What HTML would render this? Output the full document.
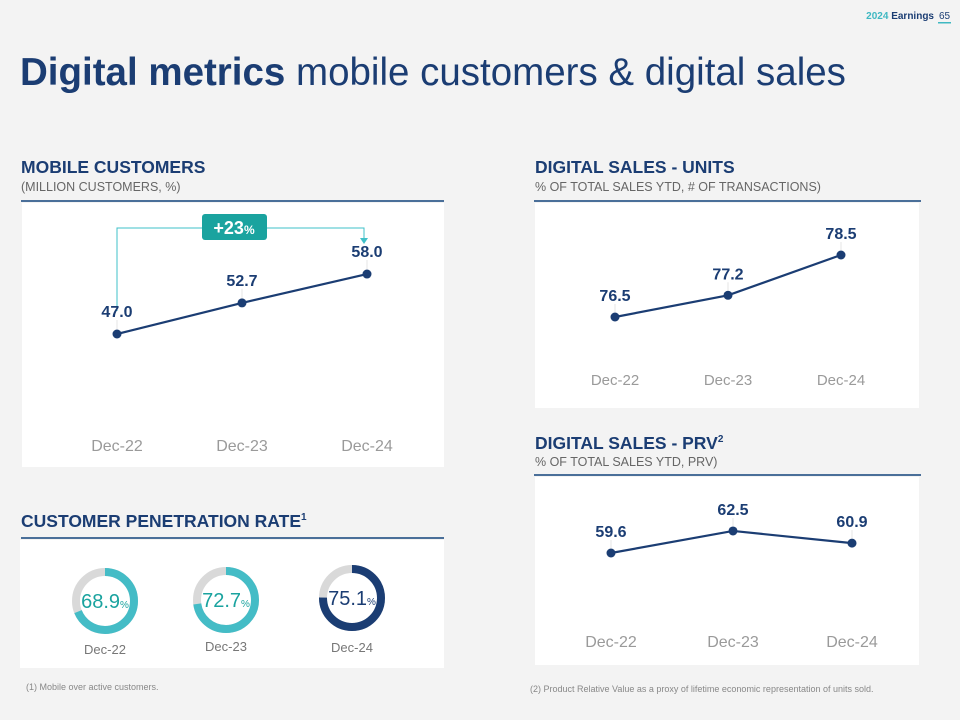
<!DOCTYPE html>
<html><head><meta charset="utf-8"><style>
body{margin:0;background:#f3f3f3;}
svg{display:block;font-family:"Liberation Sans",sans-serif;}
</style></head><body>
<svg width="960" height="720" viewBox="0 0 960 720" id="root">
<rect x="0" y="0" width="960" height="720" fill="#f3f3f3"/>
<text x="934" y="19" font-size="10" font-weight="bold" text-anchor="end"><tspan fill="#3fb8c2">2024</tspan><tspan fill="#1b3d73"> Earnings</tspan></text>
<text x="939" y="19" font-size="10" fill="#1b3d73">65</text>
<rect x="938" y="22" width="13" height="1.5" fill="#3fb8c2"/>
<text x="20" y="85" font-size="38.5" fill="#1b3d73"><tspan font-weight="bold">Digital metrics</tspan> mobile customers &amp; digital sales</text>

<text x="21" y="173" font-size="17.5" font-weight="bold" fill="#1b3d73">MOBILE CUSTOMERS</text>
<text x="21" y="191" font-size="12.5" fill="#666">(MILLION CUSTOMERS, %)</text>
<rect x="21" y="200" width="423" height="2" fill="#4a6f99"/>
<rect x="22" y="203" width="422" height="264" fill="#fff"/>

<text x="535" y="173" font-size="17.5" font-weight="bold" fill="#1b3d73">DIGITAL SALES - UNITS</text>
<text x="535" y="191" font-size="12.5" fill="#666">% OF TOTAL SALES YTD, # OF TRANSACTIONS)</text>
<rect x="534" y="200" width="387" height="2" fill="#4a6f99"/>
<rect x="535" y="203" width="384" height="205" fill="#fff"/>

<text x="535" y="449" font-size="17.5" font-weight="bold" fill="#1b3d73">DIGITAL SALES - PRV<tspan font-size="10" dy="-7">2</tspan></text>
<text x="535" y="466" font-size="12.5" fill="#666">% OF TOTAL SALES YTD, PRV)</text>
<rect x="534" y="474" width="387" height="2" fill="#4a6f99"/>
<rect x="535" y="477" width="384" height="188" fill="#fff"/>

<text x="21" y="527" font-size="17.5" font-weight="bold" fill="#1b3d73">CUSTOMER PENETRATION RATE<tspan font-size="10" dy="-7">1</tspan></text>
<rect x="21" y="537" width="423" height="2" fill="#4a6f99"/>
<rect x="20" y="540" width="424" height="128" fill="#fff"/>

<text x="26" y="690" font-size="9" fill="#888">(1) Mobile over active customers.</text>
<text x="530" y="692" font-size="9" fill="#888">(2) Product Relative Value as a proxy of lifetime economic representation of units sold.</text>

<g>
<path d="M117 311 V228 H364 V240" fill="none" stroke="#3fc0c8" stroke-width="1"/>
<path d="M360 238 L364 244 L368 238 Z" fill="#3fc0c8"/>
<rect x="202" y="214" width="65" height="26" rx="3" fill="#1aa39f"/>
<text x="234" y="234" font-size="18" font-weight="bold" fill="#fff" text-anchor="middle">+23<tspan font-size="12">%</tspan></text>
</g>
<g id="g-mobile"></g><g id="g-units"></g><g id="g-prv"></g><g id="g-donuts"></g>
</svg>
<script>
const categories = ["Dec-22","Dec-23","Dec-24"];
const mobileValues = [47.0, 52.7, 58.0];
const unitsValues = [76.5, 77.2, 78.5];
const prvValues = [59.6, 62.5, 60.9];
const penetrationValues = [68.9, 72.7, 75.1];

const NS = "http://www.w3.org/2000/svg";
function mk(tag, attrs, parent){const e=document.createElementNS(NS,tag);for(const k in attrs)e.setAttribute(k,attrs[k]);parent.appendChild(e);return e;}

function lineChart(gid, vals, xs, y0, v0, scale, labelY, labelSize, prefix, off){
  const g=document.getElementById(gid);
  const yf=v=>y0-(v-v0)*scale;
  let d="";
  vals.forEach((v,i)=>{d+=(i?"L":"M")+xs[i]+" "+yf(v);});
  const p=mk("path",{d:d,fill:"none",stroke:"#1b3d73","stroke-width":2.2},g);
  
  
  vals.forEach((v,i)=>{
    const y=yf(v);
    mk("line",{x1:xs[i],x2:xs[i],y1:y-off+3,y2:y-5,stroke:"#e4e4e4","stroke-width":1},g);
    const c=mk("circle",{cx:xs[i],cy:y,r:4.5,fill:"#1b3d73"},g);
    
    
    const t=mk("text",{x:xs[i],y:y-off,"font-size":16,"font-weight":"bold",fill:"#1b3d73","text-anchor":"middle"},g);
    t.textContent=v.toFixed(1);
    
    
    const c2=mk("text",{x:xs[i],y:labelY,"font-size":labelSize,fill:"#9a9a9a","text-anchor":"middle"},g);
    c2.textContent=categories[i];
    
    
  });
}
lineChart("g-mobile", mobileValues, [117,242,367], 334, 47, 5.45, 451, 16, "mobile", 17);
lineChart("g-units", unitsValues, [615,728,841], 317, 76.5, 31, 385, 15, "units", 16);
lineChart("g-prv", prvValues, [611,733,852], 553, 59.6, 7.6, 647, 16, "prv", 16);

const g=document.getElementById("g-donuts");
const cxs=[105,226,352], cys=[601,600,598], colors=["#44bcc6","#44bcc6","#1b3d73"], tcol=["#1aa39f","#1aa39f","#1b3d73"], lys=[654,651,652];
penetrationValues.forEach((v,i)=>{
  const r=29, C=2*Math.PI*r;
  mk("circle",{cx:cxs[i],cy:cys[i],r:r,fill:"none",stroke:"#d9d9d9","stroke-width":8},g);
  const a=mk("circle",{cx:cxs[i],cy:cys[i],r:r,fill:"none",stroke:colors[i],"stroke-width":8,"stroke-dasharray":(C*v/100)+" "+C,transform:"rotate(-90 "+cxs[i]+" "+cys[i]+")"},g);
  
  
  const t=mk("text",{x:cxs[i],y:cys[i]+7,"font-size":20,fill:tcol[i],"text-anchor":"middle"},g);
  t.innerHTML=v.toFixed(1)+'<tspan font-size="10">%</tspan>';
  
  
  const l=mk("text",{x:cxs[i],y:lys[i],"font-size":13,fill:"#777","text-anchor":"middle"},g);
  l.textContent=categories[i];
  
  
});
</script>
</body></html>
